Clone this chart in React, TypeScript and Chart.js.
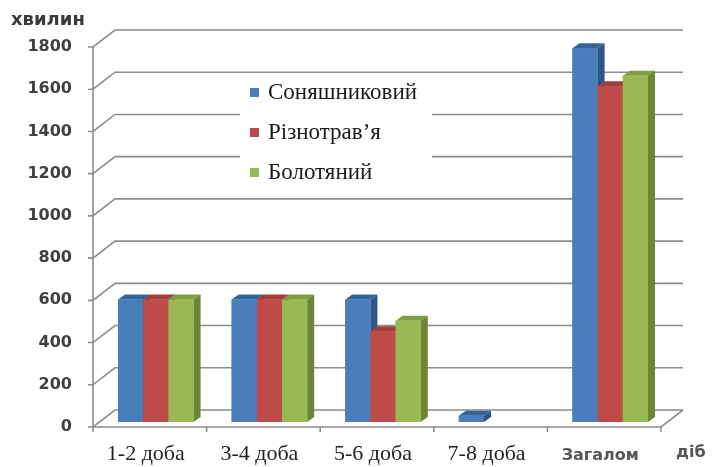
import React, { useEffect, useRef } from 'react';
import { Chart, registerables } from 'chart.js';

Chart.register(...registerables);

const categories = ['1-2 доба', '3-4 доба', '5-6 доба', '7-8 доба', 'Загалом'];
const seriesNames = ['Соняшниковий', 'Різнотрав’я', 'Болотяний'];
const sunflower = [580, 580, 580, 30, 1770];
const meadow = [580, 580, 430, 0, 1590];
const swamp = [580, 580, 480, 0, 1640];
const yTicks = [0, 200, 400, 600, 800, 1000, 1200, 1400, 1600, 1800];
const yAxisTitle = 'хвилин';
const xAxisTitle = 'діб';

const frontColors = ['#4a7ebb', '#be4b48', '#98b954'];
const topColors = ['#34649c', '#a33d3a', '#7f9e44'];
const sideColors = ['#2d5585', '#8a3431', '#6a8636'];

const FRONT = { dx: -6, dy: 5 };
const BACK = { dx: 16, dy: -12 };
const BAR_D = { dx: 7, dy: -5 };
const GRID = '#8c8c8c';

function drawFaces(ctx: any, bar: any, di: number) {
  const { x, y, base, width } = bar.getProps(['x', 'y', 'base', 'width'], true);
  const l = x - width / 2;
  const r = x + width / 2;
  ctx.fillStyle = topColors[di];
  ctx.beginPath();
  ctx.moveTo(l, y);
  ctx.lineTo(r, y);
  ctx.lineTo(r + BAR_D.dx, y + BAR_D.dy);
  ctx.lineTo(l + BAR_D.dx, y + BAR_D.dy);
  ctx.closePath();
  ctx.fill();
  ctx.fillStyle = sideColors[di];
  ctx.beginPath();
  ctx.moveTo(r, y);
  ctx.lineTo(r + BAR_D.dx, y + BAR_D.dy);
  ctx.lineTo(r + BAR_D.dx, base + BAR_D.dy);
  ctx.lineTo(r, base);
  ctx.closePath();
  ctx.fill();
}

const wallPlugin = {
  id: 'wall3d',
  beforeDatasetsDraw(chart: any) {
    const { ctx, chartArea, scales } = chart;
    const y = scales.y;
    const x = scales.x;
    const left = chartArea.left;
    const right = chartArea.right;
    ctx.save();
    ctx.strokeStyle = GRID;
    ctx.lineWidth = 1.6;
    yTicks.forEach((v) => {
      const py = y.getPixelForValue(v);
      ctx.beginPath();
      ctx.moveTo(left + FRONT.dx - 5, py + FRONT.dy);
      ctx.lineTo(left + FRONT.dx, py + FRONT.dy);
      ctx.lineTo(left + BACK.dx, py + BACK.dy);
      ctx.lineTo(right + BACK.dx, py + BACK.dy);
      ctx.stroke();
    });
    const y0 = y.getPixelForValue(0);
    const yTop = y.getPixelForValue(yTicks[yTicks.length - 1]);
    ctx.beginPath();
    ctx.moveTo(left + FRONT.dx, yTop + FRONT.dy);
    ctx.lineTo(left + FRONT.dx, y0 + FRONT.dy);
    ctx.lineTo(right + FRONT.dx, y0 + FRONT.dy);
    ctx.lineTo(right + BACK.dx, y0 + BACK.dy);
    ctx.stroke();
    const n = categories.length;
    for (let i = 0; i <= n; i++) {
      let bx: number;
      if (i === 0) bx = left;
      else if (i === n) bx = right;
      else bx = (x.getPixelForValue(i - 1) + x.getPixelForValue(i)) / 2;
      ctx.beginPath();
      ctx.moveTo(bx + FRONT.dx, y0 + FRONT.dy);
      ctx.lineTo(bx + FRONT.dx, y0 + FRONT.dy + 5);
      ctx.stroke();
    }
    ctx.restore();
  },
  afterDatasetsDraw(chart: any) {
    const { ctx } = chart;
    ctx.save();
    const n = chart.data.datasets.length;
    for (let i = 0; i < categories.length; i++) {
      for (let di = 0; di < n; di++) {
        const ds = chart.data.datasets[di];
        if (!ds.data[i]) continue;
        const bar = chart.getDatasetMeta(di).data[i];
        drawFaces(ctx, bar, di);
        bar.draw(ctx, chart.chartArea);
      }
    }
    ctx.restore();
  },
  afterDraw(chart: any) {
    const { ctx } = chart;
    ctx.save();
    ctx.fillStyle = '#ffffff';
    ctx.fillRect(240, 80, 192, 112);
    const rows = [92, 132, 172];
    chart.data.datasets.forEach((ds: any, di: number) => {
      ctx.fillStyle = frontColors[di];
      ctx.fillRect(250, rows[di] - 4, 9, 9);
      ctx.fillStyle = '#1a1a1a';
      ctx.font = '23px "Liberation Serif"';
      ctx.textAlign = 'left';
      ctx.textBaseline = 'middle';
      ctx.fillText(ds.label, 268, rows[di] + 1);
    });
    ctx.fillStyle = '#3a3a3a';
    ctx.font = 'bold 18px "DejaVu Sans"';
    ctx.textAlign = 'left';
    ctx.textBaseline = 'alphabetic';
    ctx.fillText(yAxisTitle, 11, 25);
    ctx.fillStyle = '#555555';
    ctx.font = 'bold 16px "DejaVu Sans"';
    ctx.fillText(xAxisTitle, 676, 457);
    ctx.restore();
  },
};

export default function App() {
  const ref = useRef<HTMLCanvasElement | null>(null);
  useEffect(() => {
    if (!ref.current) return;
    const chart = new Chart(ref.current, {
      type: 'bar',
      data: {
        labels: categories,
        datasets: [
          { label: seriesNames[0], data: sunflower, backgroundColor: frontColors[0] },
          { label: seriesNames[1], data: meadow, backgroundColor: frontColors[1] },
          { label: seriesNames[2], data: swamp, backgroundColor: frontColors[2] },
        ],
      },
      options: {
        responsive: false,
        animation: false,
        devicePixelRatio: 1,
        layout: { padding: { left: 0, top: 42, right: 46, bottom: 0 } },
        datasets: { bar: { categoryPercentage: 0.665, barPercentage: 1 } },
        plugins: { legend: { display: false }, tooltip: { enabled: false } },
        scales: {
          x: {
            grid: { display: false, drawTicks: false },
            border: { display: false },
            ticks: {
              padding: 19,
              labelOffset: -10,
              color: (c: any) => (c.index === 4 ? '#555555' : '#222222'),
              font: (c: any) =>
                c.index === 4
                  ? { family: '"DejaVu Sans"', size: 16, weight: 'bold', lineHeight: 1.8 }
                  : { family: '"Liberation Serif"', size: 22, weight: 'normal', lineHeight: 1.2 },
            },
            afterFit: (s: any) => {
              s.height = 45;
            },
          },
          y: {
            min: 0,
            max: 1800,
            grid: { display: false, drawTicks: false },
            border: { display: false },
            ticks: {
              stepSize: 200,
              padding: 27,
              labelOffset: 5,
              color: '#404040',
              font: { family: '"DejaVu Sans"', size: 16, weight: 'bold' },
              callback: (v: any) => String(v),
            },
            afterFit: (s: any) => {
              s.width = 99;
            },
          },
        },
      },
      plugins: [wallPlugin],
    } as any);
    return () => chart.destroy();
  }, []);
  return (
    <div style={{ position: 'absolute', left: 0, top: 0, width: 713, height: 467, background: '#fff' }}>
      <canvas ref={ref} width={713} height={467} />
    </div>
  );
}
